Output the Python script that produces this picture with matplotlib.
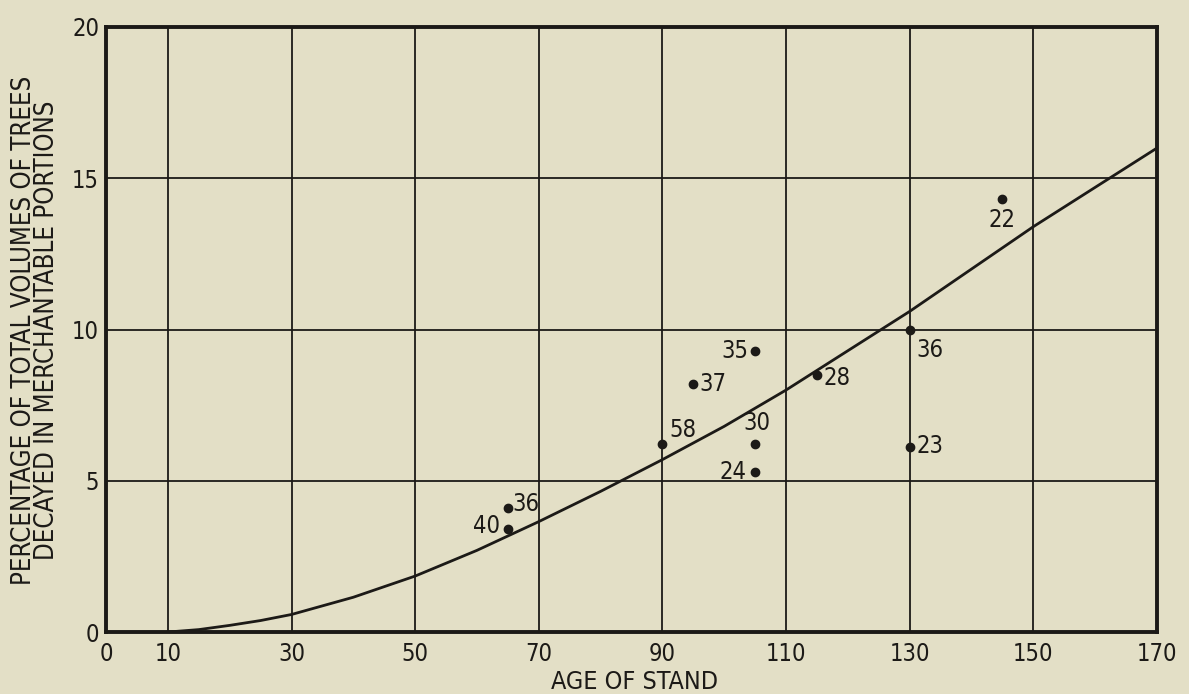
import matplotlib.pyplot as plt

# stand age vs. percent of merchantable volume decayed
ages = [145, 130, 130, 105, 95, 115, 90, 105, 105, 65, 65]
decay = [14.3, 10.0, 6.1, 9.3, 8.2, 8.5, 6.2, 6.2, 5.3, 4.1, 3.4]
plot_counts = ["22", "36", "23", "35", "37", "28", "58", "30", "24", "36", "40"]

# label offsets in points (dx, dy) and alignment for each plot count
label_pos = [(0, -6, "center", "top"), (5, -6, "left", "top"), (5, 1, "left", "center"),
             (-5, 0, "right", "center"), (4, 0, "left", "center"), (5, -2, "left", "center"),
             (5, 2, "left", "bottom"), (1, 7, "center", "bottom"), (-6, 0, "right", "center"),
             (3, 3, "left", "center"), (-6, 2, "right", "center")]

# fitted curve read along its length
curve_x = [10, 15, 20, 25, 30, 40, 50, 60, 70, 80, 90, 100, 110, 120, 130, 140, 150, 160, 170]
curve_y = [0, 0.08, 0.22, 0.38, 0.58, 1.15, 1.85, 2.7, 3.65, 4.65, 5.7, 6.8, 8.0, 9.3, 10.6, 12.0, 13.4, 14.7, 16.0]

xticks = [0, 10, 30, 50, 70, 90, 110, 130, 150, 170]
yticks = [0, 5, 10, 15, 20]

bg = "#e3dfc6"
ink = "#1c1a17"
plt.rcParams['font.family'] = ['DejaVu Sans']
plt.rcParams['font.stretch'] = 'condensed'

fig = plt.figure(figsize=(11.89, 6.94), dpi=100, facecolor=bg)
ax = fig.add_axes([0.0892, 0.0893, 0.8839, 0.8718])
ax.set_facecolor(bg)

ax.set_xlim(0, 170)
ax.set_ylim(0, 20)

for x in [10, 30, 50, 70, 90, 110, 130, 150]:
    ax.axvline(x, color=ink, lw=1.3, zorder=1)
for y in [5, 10, 15]:
    ax.axhline(y, color=ink, lw=1.3, zorder=1)

ax.plot(curve_x, curve_y, color=ink, lw=2.0, zorder=2)
ax.plot(ages, decay, 'o', color=ink, ms=6, zorder=3)

for x, y, t, (dx, dy, ha, va) in zip(ages, decay, plot_counts, label_pos):
    ax.annotate(t, (x, y), xytext=(dx, dy), textcoords="offset points",
                ha=ha, va=va, fontsize=17, color=ink)

ax.set_xticks(xticks)
ax.set_yticks(yticks)
ax.tick_params(length=0, labelsize=17, colors=ink)
ax.tick_params(axis='x', pad=7)
ax.tick_params(axis='y', pad=5)
for s in ax.spines.values():
    s.set_color(ink)
    s.set_linewidth(2.8)

ax.set_xlabel("AGE OF STAND", fontsize=18, color=ink, labelpad=0)
ax.xaxis.set_label_coords(0.503, -0.063)
ax.set_ylabel("PERCENTAGE OF TOTAL VOLUMES OF TREES\nDECAYED IN MERCHANTABLE PORTIONS",
              fontsize=18.5, color=ink, linespacing=0.88)
ax.yaxis.set_label_coords(-0.0435, 0.499)

fig.savefig("out.png", dpi=100, facecolor=bg)
